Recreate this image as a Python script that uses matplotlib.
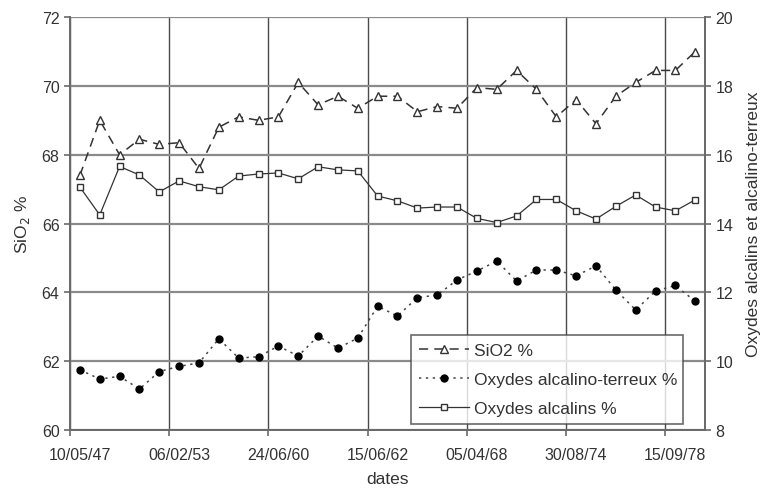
import matplotlib
matplotlib.use("Agg")
import matplotlib.pyplot as plt
from matplotlib.ticker import FixedLocator, NullFormatter

plt.rcParams['font.family'] = ['Liberation Sans', 'DejaVu Sans']

# Sampling labels (shown every 5th sample)
dates = ["10/05/47", "06/02/53", "24/06/60", "15/06/62", "05/04/68", "30/08/74", "15/09/78"]
label_step = 5

# SiO2 content, %
sio2 = [67.4, 69.0, 68.0, 68.45, 68.3, 68.35, 67.6, 68.8, 69.1, 69.0,
        69.1, 70.1, 69.45, 69.7, 69.35, 69.7, 69.7, 69.25, 69.4, 69.35,
        69.95, 69.9, 70.45, 69.9, 69.1, 69.6, 68.9, 69.7, 70.1, 70.45,
        70.45, 71.0]

# Alkaline-earth oxides, %
alc_terreux = [9.75, 9.48, 9.56, 9.19, 9.7, 9.85, 9.95, 10.65, 10.09, 10.13,
               10.44, 10.15, 10.73, 10.38, 10.67, 11.6, 11.31, 11.85, 11.92, 12.36,
               12.62, 12.91, 12.33, 12.65, 12.65, 12.48, 12.77, 12.07, 11.49, 12.04,
               12.2, 11.74]

# Alkali oxides, %
alcalins = [15.06, 14.25, 15.66, 15.41, 14.92, 15.24, 15.07, 14.98, 15.38, 15.44,
            15.47, 15.3, 15.65, 15.56, 15.53, 14.8, 14.66, 14.45, 14.48, 14.48,
            14.15, 14.03, 14.22, 14.7, 14.7, 14.37, 14.13, 14.5, 14.83, 14.48,
            14.37, 14.69]

n = len(sio2)
x = list(range(n))

fig = plt.figure(figsize=(7.63, 4.89), dpi=100)
ax = fig.add_axes([0.0917, 0.1186, 0.8325, 0.8444])
ax2 = ax.twinx()

grid_col = '#6a6a6a'
text_col = '#333333'
tick_fs = 11.5
label_fs = 12.5

ax.set_xlim(-0.5, n - 0.5)
ax.set_ylim(60, 72)
ax2.set_ylim(8, 20)
ax.set_yticks(range(60, 73, 2))
ax2.set_yticks(range(8, 21, 2))

# category boundaries carry the ticks and gridlines, labels sit on category centres
bounds = [i - 0.5 for i in range(0, n, label_step)]
ax.xaxis.set_major_locator(FixedLocator(bounds))
ax.xaxis.set_major_formatter(NullFormatter())
ax.xaxis.set_minor_locator(FixedLocator([i * label_step for i in range(len(dates))]))
ax.set_xticklabels(dates, minor=True)
ax.tick_params(axis='x', which='minor', length=0, pad=12, labelsize=tick_fs, labelcolor=text_col)
ax.tick_params(axis='x', which='major', length=4, width=1.2, color=grid_col)
ax.tick_params(axis='y', length=4, width=1.2, color=grid_col, labelsize=tick_fs, labelcolor=text_col)
ax2.tick_params(axis='y', length=4, width=1.2, color=grid_col, labelsize=tick_fs, labelcolor=text_col)

ax.grid(True, axis='y', color='#8a8a8a', linewidth=1.6)
ax.grid(True, axis='x', which='major', color='#4a4a4a', linewidth=1.0)
ax.set_axisbelow(True)

for a in (ax, ax2):
    for s in a.spines.values():
        s.set_color(grid_col)
        s.set_linewidth(1.3)
    a.spines['top'].set_visible(False)

l1, = ax.plot(x, sio2, linestyle=(0, (6, 4)), color='#333333', linewidth=1.1,
              marker='^', markersize=6, markerfacecolor='white',
              markeredgecolor='#333333', markeredgewidth=1.0, label='SiO2 %')
l2, = ax2.plot(x, alc_terreux, linestyle=(0, (1.5, 3)), color='#444444', linewidth=1.1,
               marker='o', markersize=5, markerfacecolor='black',
               markeredgecolor='black', label='Oxydes alcalino-terreux %')
l3, = ax2.plot(x, alcalins, linestyle='-', color='#333333', linewidth=0.9,
               marker='s', markersize=5, markerfacecolor='white',
               markeredgecolor='#333333', markeredgewidth=1.0, label='Oxydes alcalins %')

ax.set_ylabel('SiO$_2$ %', fontsize=label_fs, color=text_col, labelpad=7)
ax2.set_ylabel('Oxydes alcalins et alcalino-terreux', fontsize=label_fs, color=text_col, labelpad=9)
ax.set_xlabel('dates', fontsize=label_fs, color=text_col, labelpad=7)

leg = ax2.legend(handles=[l1, l2, l3], loc='lower left',
                 bbox_to_anchor=(0.537, 0.015, 0.428, 0.22), mode='expand',
                 fontsize=label_fs, frameon=True, fancybox=False, handlelength=2.9,
                 borderaxespad=0, borderpad=0.45, labelspacing=0.8, handletextpad=0.25)
leg.get_frame().set_edgecolor('#444444')
leg.get_frame().set_linewidth(1.2)
for t in leg.get_texts():
    t.set_color(text_col)

fig.savefig('out.png', dpi=100)
